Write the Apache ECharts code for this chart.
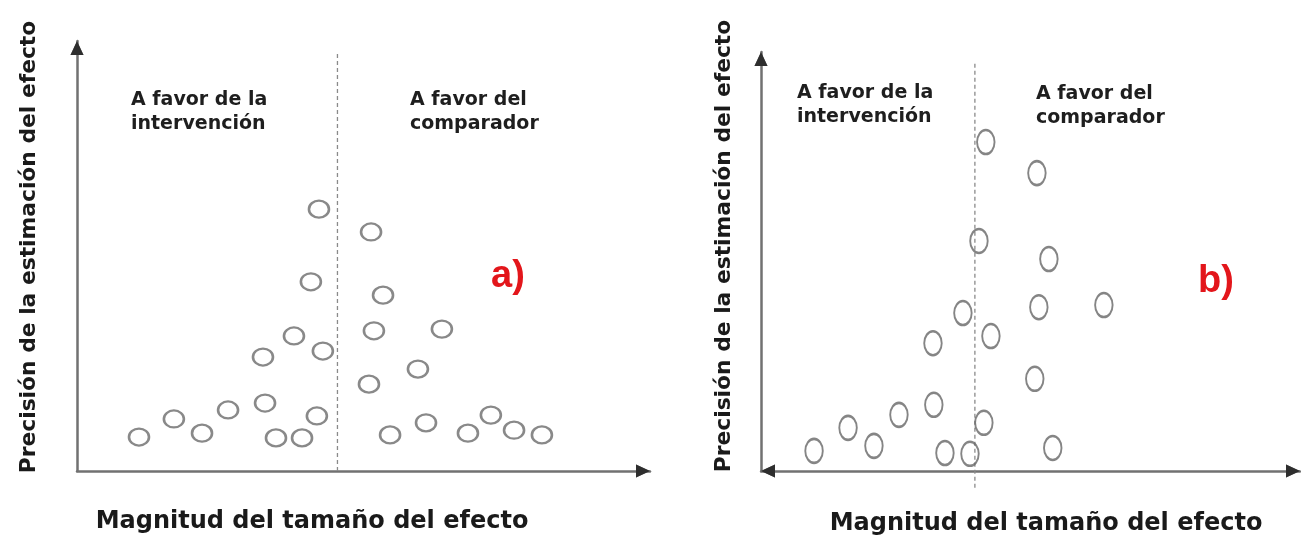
<!DOCTYPE html>
<html>
<head>
<meta charset="utf-8">
<script src="https://cdn.jsdelivr.net/npm/echarts@6/dist/echarts.min.js"></script>
<style>
html,body{margin:0;padding:0;background:#fff;}
#c{width:1301px;height:537px;}
</style>
</head>
<body>
<div id="c"></div>
<script>
// Panel a) symmetric funnel
const effectA = [-0.071,-0.102,-0.167,-0.056,-0.286,-0.278,-0.420,-0.628,-0.520,-0.762,-0.236,-0.136,-0.079,
                  0.129,0.175,0.140,0.401,0.309,0.121,0.202,0.340,0.501,0.589,0.678,0.785];
const precisionA = [6.09,4.40,3.14,2.79,2.65,1.58,1.42,1.21,0.88,0.79,0.77,0.77,1.28,
                    5.56,4.09,3.26,3.30,2.37,2.02,0.84,1.12,0.88,1.30,0.95,0.84];
// Panel b) asymmetric funnel
const effectB = [0.051,0.019,-0.056,0.075,-0.196,-0.192,-0.355,-0.593,-0.472,-0.752,-0.140,-0.023,0.042,
                 0.290,0.346,0.299,0.603,0.280,0.364];
const precisionB = [7.85,5.49,3.77,3.22,3.05,1.58,1.34,1.03,0.60,0.48,0.43,0.41,1.15,
                    7.11,5.06,3.91,3.96,2.20,0.55];
// null-effect reference lines (x = 0), from/to precision
const nullLineA = [0, 9.72];
const nullLineB = [-0.4, 9.76];

const titleX = 'Magnitud del tamaño del efecto';
const titleY = 'Precisión de la estimación del efecto';
const labelLeft = 'A favor de la\nintervención';
const labelRight = 'A favor del\ncomparador';

const pairs = (xs, ys) => xs.map((x, i) => [x, ys[i]]);

const axisCol = '#717171';
const arrowCol = '#2e2e2e';
function xAx(gi, min, max, sym, off, arrowOnly) {
  return {type:'value', gridIndex:gi, min:min, max:max, position:'bottom', offset:0,
    axisLine:{show:true, onZero:false, symbol:sym, symbolSize:[13,14], symbolOffset:off,
      lineStyle:arrowOnly ? {color:arrowCol, width:0.01} : {color:axisCol, width:2.5}},
    axisTick:{show:false}, axisLabel:{show:false}, splitLine:{show:false}};
}
function yAx(gi, arrowOnly) {
  return {type:'value', gridIndex:gi, min:0, max:10, position:'left', offset:0,
    axisLine:{show:true, onZero:false, symbol:['none','triangle'], symbolSize:[13,14], symbolOffset:[0,-7],
      lineStyle:arrowOnly ? {color:arrowCol, width:0.01} : {color:axisCol, width:2.5}},
    axisTick:{show:false}, axisLabel:{show:false}, splitLine:{show:false}};
}
const dashStyle = {color:'#8a8a8a', width:1.3, type:[4,3]};
const txtFont = 'bold 19px "DejaVu Sans"';
const ttlFont = 'bold 24px "DejaVu Sans"';
const ttlFontY = 'bold 21.8px "DejaVu Sans"';
const redFont = 'bold 38px "Liberation Sans"';
function txt(x, y, t, font, fill, align, valign, rot) {
  return {type:'text', x:x, y:y, rotation:rot||0, silent:true,
    style:{text:t, font:font, fill:fill, align:align, verticalAlign:valign,
           textAlign:align, textVerticalAlign:valign, lineHeight:24}};
}

const option = {
  backgroundColor:'#ffffff',
  animation:false,
  grid:[
    {left:77, top:41, width:573, height:430},
    {left:761, top:52, width:539, height:419}
  ],
  xAxis:[
    xAx(0, -1, 1.2, ['none','triangle'], [0,-7]),
    xAx(1, -1, 1.52, ['triangle','triangle'], [7,-7]),
    xAx(0, -1, 1.2, ['none','triangle'], [0,-7], true),
    xAx(1, -1, 1.52, ['triangle','triangle'], [7,-7], true)
  ],
  yAxis:[yAx(0), yAx(1), yAx(0, true), yAx(1, true)],
  series:[
    {type:'line', xAxisIndex:0, yAxisIndex:0, data:nullLineA.map(v=>[0,v]), symbol:'none', clip:false,
     lineStyle:dashStyle, silent:true, z:1},
    {type:'line', xAxisIndex:1, yAxisIndex:1, data:nullLineB.map(v=>[0,v]), symbol:'none', clip:false,
     lineStyle:dashStyle, silent:true, z:1},
    {type:'scatter', xAxisIndex:0, yAxisIndex:0, data:pairs(effectA, precisionA), symbol:'circle',
     symbolSize:[20,17], itemStyle:{color:'rgba(255,255,255,0)', borderColor:'#6c6c6c', borderWidth:2.4}, z:3},
    {type:'scatter', xAxisIndex:1, yAxisIndex:1, data:pairs(effectB, precisionB), symbol:'circle',
     symbolSize:[17.5,24], itemStyle:{color:'rgba(255,255,255,0)', borderColor:'#666666', borderWidth:2.2}, z:3}
  ],
  graphic:[
    txt(131, 88, labelLeft, txtFont, '#1e1e1e', 'left', 'top'),
    txt(410, 88, labelRight, txtFont, '#1e1e1e', 'left', 'top'),
    txt(797, 81, labelLeft, txtFont, '#1e1e1e', 'left', 'top'),
    txt(1036, 82, labelRight, txtFont, '#1e1e1e', 'left', 'top'),
    txt(508, 277, 'a)', redFont, '#e3161b', 'center', 'middle'),
    txt(1216, 282, 'b)', redFont, '#e3161b', 'center', 'middle'),
    txt(312, 522, titleX, ttlFont, '#1a1a1a', 'center', 'middle'),
    txt(1046, 524, titleX, ttlFont, '#1a1a1a', 'center', 'middle'),
    txt(29, 247, titleY, ttlFontY, '#1a1a1a', 'center', 'middle', Math.PI/2),
    txt(724, 246, titleY, ttlFontY, '#1a1a1a', 'center', 'middle', Math.PI/2)
  ]
};
const chart = echarts.init(document.getElementById('c'), null, {renderer:'canvas'});
chart.setOption(option);
</script>
</body>
</html>
